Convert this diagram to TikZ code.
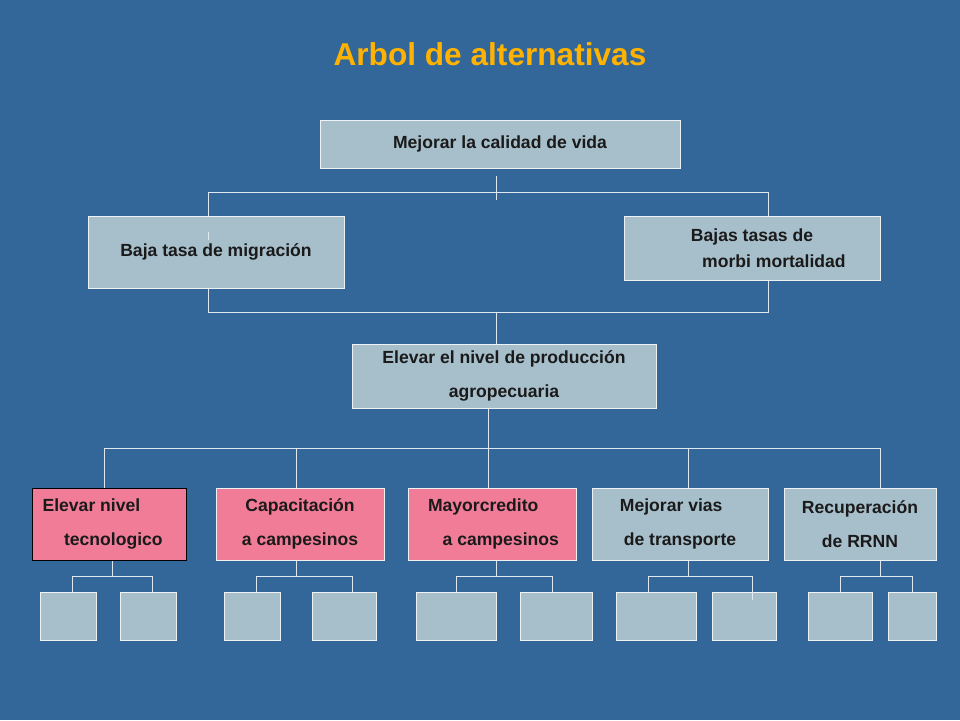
\documentclass[tikz,border=0pt]{standalone}
\usepackage{fontspec}
\setmainfont{Liberation Sans}
\definecolor{bg}{HTML}{336699}
\definecolor{box}{HTML}{A7BFCB}
\definecolor{pink}{HTML}{F17C97}
\definecolor{ttl}{HTML}{FFB300}
\definecolor{txt}{HTML}{1A1A1A}
\begin{document}
\begin{tikzpicture}[x=0.02cm,y=-0.02cm,
  bx/.style={fill=box,draw=white!80!box,line width=0.4pt,inner sep=0pt,font=\fontsize{10pt}{15pt}\selectfont\bfseries,text=txt,align=center},
  pk/.style={bx,fill=pink},
  ln/.style={draw=white!85!bg,line width=0.5pt}]
\fill[bg] (0,0) rectangle (960,720);
\useasboundingbox (0,0) rectangle (960,720);
\node[font=\fontsize{18pt}{20pt}\selectfont\bfseries,text=ttl] (title) at (490,54) {Arbol de alternativas};
% lines
\draw[ln] (496,176)--(496,200) (208,192)--(768,192) (208,192)--(208,232) (768,192)--(768,216);
\draw[ln] (208,288)--(208,312)--(768,312)--(768,280) (496,312)--(496,344);
\draw[ln] (488,408)--(488,448) (104,448)--(880,448);
\foreach \x in {104,296,488,688,880} \draw[ln] (\x,448)--(\x,488);
\draw[ln] (112,560)--(112,576) (72,576)--(152,576) (72,576)--(72,592) (152,576)--(152,592);
\draw[ln] (296,560)--(296,576) (256,576)--(352,576) (256,576)--(256,592) (352,576)--(352,592);
\draw[ln] (496,560)--(496,576) (456,576)--(552,576) (456,576)--(456,592) (552,576)--(552,592);
\draw[ln] (688,560)--(688,576) (648,576)--(752,576) (648,576)--(648,592) (752,576)--(752,600);
\draw[ln] (880,560)--(880,576) (840,576)--(912,576) (840,576)--(840,592) (912,576)--(912,592);
% boxes
\node[bx,minimum width=360*0.02cm,minimum height=48*0.02cm] (top) at (500,144) {Mejorar la calidad de vida};
\node[bx,minimum width=256*0.02cm,minimum height=72*0.02cm] (l) at (216,252) {Baja tasa de migración};
\draw[ln] (208,232)--(208,240);
\node[bx,minimum width=256*0.02cm,minimum height=64*0.02cm] (r) at (752,248) {Bajas tasas de\\\hspace*{2.5em}morbi mortalidad};
\node[bx,minimum width=304*0.02cm,minimum height=64*0.02cm,font=\fontsize{10pt}{19pt}\selectfont\bfseries] (m) at (504,376) {Elevar el nivel de producción\\agropecuaria};
\node[pk,draw=black,minimum width=154*0.02cm,minimum height=72*0.02cm,font=\fontsize{10pt}{19pt}\selectfont\bfseries] (b1) at (109,524) {Elevar nivel\hspace*{2em}\\\hspace*{0.5em}tecnologico};
\node[pk,minimum width=168*0.02cm,minimum height=72*0.02cm,font=\fontsize{10pt}{19pt}\selectfont\bfseries] (b2) at (300,524) {Capacitación\\a campesinos};
\node[pk,minimum width=168*0.02cm,minimum height=72*0.02cm,font=\fontsize{10pt}{19pt}\selectfont\bfseries] (b3) at (492,524) {Mayorcredito\hspace*{1em}\\\hspace*{1em}a campesinos};
\node[bx,minimum width=176*0.02cm,minimum height=72*0.02cm,font=\fontsize{10pt}{19pt}\selectfont\bfseries] (b4) at (680,524) {Mejorar vias\hspace*{1em}\\de transporte};
\node[bx,minimum width=152*0.02cm,minimum height=72*0.02cm,font=\fontsize{10pt}{19pt}\selectfont\bfseries] (b5) at (860,524) {Recuperación\\de RRNN};
% leaves
\foreach \a/\b [count=\i] in {40/96,120/176,224/280,312/376,416/496,520/592,616/696,712/776,808/872,888/936}
  \node[bx,minimum width={(\b-\a)*0.02cm},minimum height=48*0.02cm] (leaf\i) at ({(\a+\b)/2},616) {};
\draw[ln] (752,592)--(752,600);
\end{tikzpicture}
\end{document}
